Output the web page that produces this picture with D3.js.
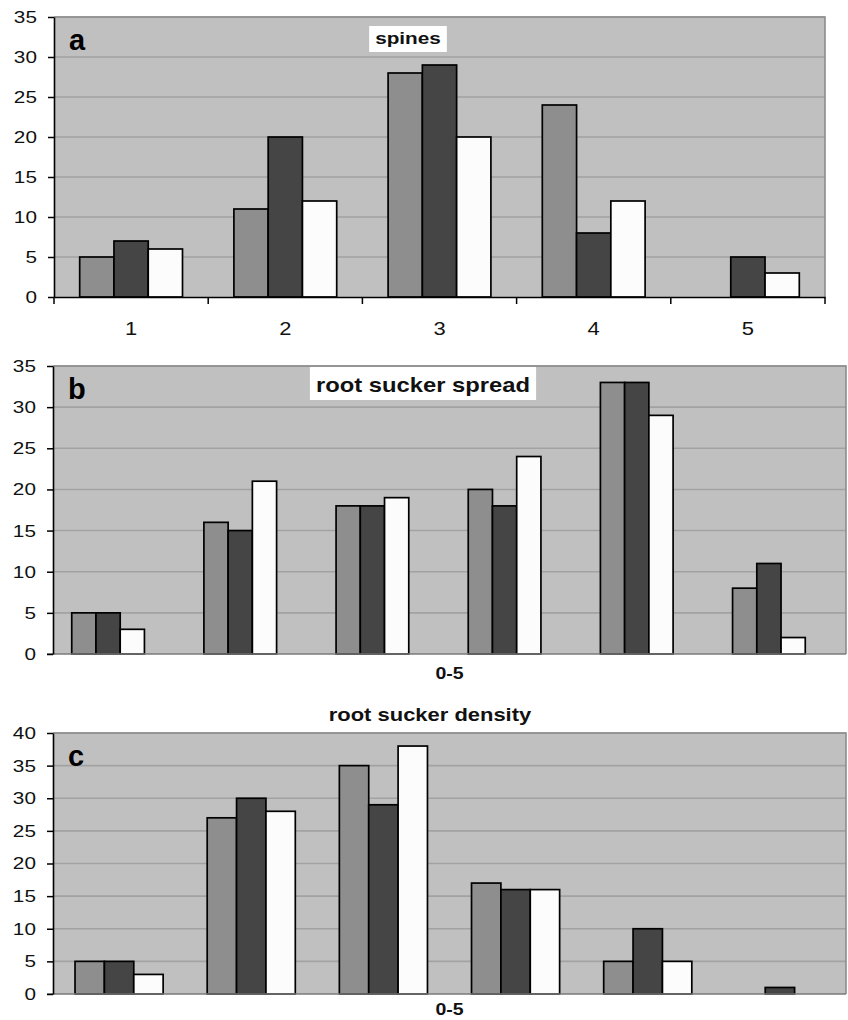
<!DOCTYPE html>
<html>
<head>
<meta charset="utf-8">
<script src="https://cdn.jsdelivr.net/npm/d3@7"></script>
<style>
  body{margin:0;background:#fff;}
  svg text{font-family:"Liberation Sans",Arial,sans-serif;}
</style>
</head>
<body>
<svg id="chart" width="848" height="1020"></svg>
<script>
// series order: gray, dark, white
const seriesKeys=["gray","dark","white"];
const seriesColors=["#8e8e8e","#454545","#fcfcfc"];

// panel a - spines
const spineCats=["1","2","3","4","5"];
const spineGray=[5,11,28,24,0];
const spineDark=[7,20,29,8,5];
const spineWhite=[6,12,20,12,3];
const spineTicks=[0,5,10,15,20,25,30,35];

// panel b - root sucker spread
const spreadCats=["0","1","2","3","4","5"];
const spreadGray=[5,16,18,20,33,8];
const spreadDark=[5,15,18,18,33,11];
const spreadWhite=[3,21,19,24,29,2];
const spreadTicks=[0,5,10,15,20,25,30,35];

// panel c - root sucker density
const densityCats=["0","1","2","3","4","5"];
const densityGray=[5,27,35,17,5,0];
const densityDark=[5,30,29,16,10,1];
const densityWhite=[3,28,38,16,5,0];
const densityTicks=[0,5,10,15,20,25,30,35,40];

const svg=d3.select('#chart');
const stretch=1.22; // the original text is a bit wide

function wideText(g,x,y,txt,size,bold){
  return g.append('text')
    .attr('transform',`translate(${x},${y}) scale(${stretch},1)`)
    .attr('text-anchor','middle').attr('font-size',size)
    .attr('font-weight',bold?'bold':'normal').attr('fill','#111').text(txt);
}

function drawPanel(p){
  const g=svg.append('g');
  const rows=p.cats.map((c,i)=>({cat:c,vals:p.series.map(s=>s[i])}));

  const y=d3.scaleLinear().domain([0,p.max]).range([p.bottom,p.top]);
  const x0=d3.scaleBand().domain(p.cats).range([p.left+p.shift,p.right+p.shift])
    .paddingInner(p.pad).paddingOuter(p.pad/2);
  const x1=d3.scaleBand().domain(seriesKeys).range([0,x0.bandwidth()]);

  // plot background
  g.append('rect').attr('x',p.left).attr('y',p.top)
    .attr('width',p.right-p.left).attr('height',p.bottom-p.top)
    .attr('fill','#c0c0c0');

  // gridlines
  g.selectAll('.grid').data(p.ticks.filter(t=>t>0)).join('line')
    .attr('x1',p.left).attr('x2',p.right)
    .attr('y1',d=>y(d)).attr('y2',d=>y(d))
    .attr('stroke','#a2a2a2').attr('stroke-width',1.6);

  // top + right border
  g.append('path')
    .attr('d',`M${p.left},${p.top}H${p.right}V${p.bottom}`)
    .attr('fill','none').attr('stroke','#8c8c8c').attr('stroke-width',1.6);

  // bars
  const grp=g.selectAll('.grp').data(rows).join('g')
    .attr('transform',d=>`translate(${x0(d.cat)},0)`);
  grp.selectAll('rect').data(d=>d.vals.map((v,i)=>({k:seriesKeys[i],v:v,c:seriesColors[i]})))
    .join('rect')
    .filter(d=>d.v>0)
    .attr('x',d=>x1(d.k)).attr('width',x1.bandwidth())
    .attr('y',d=>y(d.v)).attr('height',d=>y(0)-y(d.v))
    .attr('fill',d=>d.c).attr('stroke','#000').attr('stroke-width',1.7);

  // bottom axis line
  if(p.xTickLabels){
    const xb=d3.scaleBand().domain(p.cats).range([p.left,p.right]);
    const xAxis=d3.axisBottom(xb).tickSize(0).tickPadding(25);
    const ax=g.append('g').attr('transform',`translate(0,${p.bottom})`).call(xAxis);
    ax.select('.domain').attr('stroke','#000').attr('stroke-width',1.6);
    ax.selectAll('text').attr('font-size',18).attr('fill','#111')
      .attr('transform',`scale(${stretch},1)`);
    // boundary ticks
    const bounds=p.cats.map(c=>xb(c)).concat([p.right]);
    ax.selectAll('.bt').data(bounds).join('line')
      .attr('x1',d=>d).attr('x2',d=>d).attr('y1',0).attr('y2',7)
      .attr('stroke','#000').attr('stroke-width',1.5);
  }else{
    g.append('line').attr('x1',p.left-6).attr('x2',p.right)
      .attr('y1',p.bottom).attr('y2',p.bottom)
      .attr('stroke','#7a7a7a').attr('stroke-width',1.6);
  }

  // y axis
  const yAxis=d3.axisLeft(y).tickValues(p.ticks).tickSize(6).tickSizeOuter(0).tickPadding(8);
  const ya=g.append('g').attr('transform',`translate(${p.left},0)`).call(yAxis);
  ya.select('.domain').attr('stroke','#000').attr('stroke-width',1.6);
  ya.selectAll('.tick line').attr('stroke','#000').attr('stroke-width',1.5);
  ya.selectAll('text').attr('font-size',17).attr('fill','#111')
    .attr('transform',`scale(${stretch},1)`);

  // panel letter
  g.append('text').attr('x',p.left+15).attr('y',p.top+33)
    .attr('font-size',29).attr('font-weight','bold').text(p.letter);

  // title
  const t=wideText(g,p.titleX,p.titleY,p.title,p.titleSize,true);
  if(p.titleBox){
    const bb=t.node().getBoundingClientRect();
    const sb=svg.node().getBoundingClientRect();
    g.insert('rect',()=>t.node()).attr('x',bb.x-sb.x-6).attr('y',p.top+(p.boxTop||0))
      .attr('width',bb.width+12).attr('height',p.boxH).attr('fill','#fff');
  }

  if(p.xTitle){
    wideText(g,(p.left+p.right)/2,p.bottom+p.xTitleDy,p.xTitle,16,true);
  }
}

drawPanel({letter:'a',title:'spines',titleX:408,titleY:44,titleSize:17,titleBox:true,boxTop:9,boxH:26,
  cats:spineCats,series:[spineGray,spineDark,spineWhite],ticks:spineTicks,max:35,
  left:54,right:825,top:17,bottom:297,pad:1/3,shift:0,xTickLabels:true});

drawPanel({letter:'b',title:'root sucker spread',titleX:423,titleY:392,titleSize:19.5,titleBox:true,boxTop:1,boxH:33,
  cats:spreadCats,series:[spreadGray,spreadDark,spreadWhite],ticks:spreadTicks,max:35,
  left:53,right:846,top:366,bottom:654,pad:0.45,shift:-11,xTitle:'0-5',xTitleDy:25});

drawPanel({letter:'c',title:'root sucker density',titleX:430,titleY:721,titleSize:18,titleBox:false,
  cats:densityCats,series:[densityGray,densityDark,densityWhite],ticks:densityTicks,max:40,
  left:53,right:846,top:733,bottom:994,pad:1/3,shift:0,xTitle:'0-5',xTitleDy:21});
</script>
</body>
</html>
